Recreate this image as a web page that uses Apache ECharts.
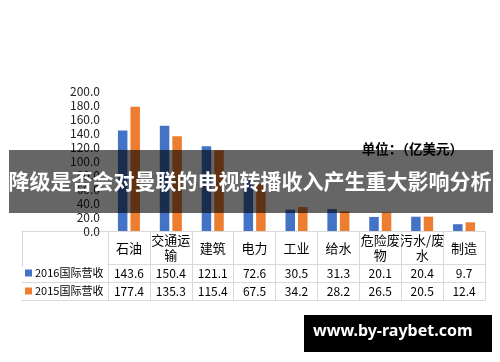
<!DOCTYPE html>
<html><head><meta charset="utf-8">
<script src="https://cdn.jsdelivr.net/npm/echarts@6/dist/echarts.min.js"></script>
<style>html,body{margin:0;padding:0;background:#fff}#c{width:500px;height:362px}</style>
</head><body><div id="c"></div>
<script>
var categories = ['石油','交通运\n输','建筑','电力','工业','给水','危险废\n物','污水/废\n水','制造'];
var s2016 = [143.6,150.4,121.1,72.6,30.5,31.3,20.1,20.4,9.7];
var s2015 = [177.4,135.3,115.4,67.5,34.2,28.2,26.5,20.5,12.4];
var seriesNames = ['2016国际营收','2015国际营收'];
var titleText = '降级是否会对曼联的电视转播收入产生重大影响分析';
var unitText = '单位：（亿美元）';
var watermark = 'www.by-raybet.com';

var FONT = '"Noto Sans CJK SC","Noto Sans",sans-serif';
var LINE = '#d9d9d9';
var chart = echarts.init(document.getElementById('c'), null, {renderer:'canvas'});

function rowAxis(offset, labels, margin){
  return {
    type:'category', gridIndex:0, data:categories, position:'bottom', offset:offset,
    axisLine:{show:true, lineStyle:{color:LINE}},
    axisTick:{show:false},
    axisLabel:{show:!!labels, interval:0, margin:margin||9, verticalAlign:'middle',
      fontSize:12, color:'#000', fontFamily:FONT,
      formatter:function(v,i){ return labels ? labels[i].toFixed(1) : ''; }}
  };
}
function leftAxis(offset, ticks){
  return {
    type:'category', gridIndex:1, data:[''], position:'bottom', offset:offset,
    axisLine:{show:true, lineStyle:{color:LINE}},
    axisTick:{show:ticks, length:36, interval:0, lineStyle:{color:LINE}},
    axisLabel:{show:false}
  };
}
function legendRow(name, top){
  return {
    orient:'horizontal', left:25, top:top, padding:0, itemGap:0, itemWidth:7, itemHeight:7,
    icon:'rect', selectedMode:false,
    textStyle:{fontSize:11, color:'#000', lineHeight:18, fontFamily:FONT, padding:[0,0,0,-2]},
    data:[name]
  };
}

chart.setOption({
  animation:false,
  textStyle:{fontFamily:FONT},
  grid:[{left:108, right:15, top:91, bottom:131},
        {left:22, right:392, top:91, bottom:131}],
  legend:[legendRow(seriesNames[0], 264), legendRow(seriesNames[1], 282)],
  xAxis:[
    {type:'category', gridIndex:0, data:categories, position:'bottom',
     axisLine:{show:true, lineStyle:{color:LINE}},
     axisTick:{show:true, length:69, interval:0, alignWithLabel:false, lineStyle:{color:LINE}},
     axisLabel:{interval:0, margin:17, verticalAlign:'middle', fontSize:13, lineHeight:15, color:'#000', fontFamily:FONT}},
    rowAxis(33, s2016, 9),
    rowAxis(51, s2015, 9),
    rowAxis(69, null),
    leftAxis(33, true),
    leftAxis(51, false),
    leftAxis(69, false)
  ],
  yAxis:[
    {type:'value', gridIndex:0, min:0, max:200, interval:20,
     axisLine:{show:false}, axisTick:{show:false}, splitLine:{show:false},
     axisLabel:{margin:8, fontSize:12, color:'#222', fontFamily:FONT,
       formatter:function(v){return v.toFixed(1);}}},
    {type:'value', gridIndex:1, show:false}
  ],
  series:[
    {name:seriesNames[0], type:'bar', xAxisIndex:0, yAxisIndex:0, data:s2016,
     barWidth:9.5, barGap:'32%', itemStyle:{color:'#4472C4'}},
    {name:seriesNames[1], type:'bar', xAxisIndex:0, yAxisIndex:0, data:s2015,
     barWidth:9.5, barGap:'32%', itemStyle:{color:'#ED7D31'}}
  ],
  graphic:[
    {type:'text', right:37, top:142, z:50,
     style:{text:unitText, fill:'#000', fontSize:13.5, fontWeight:'bold', fontFamily:FONT}},
    {type:'rect', left:9, top:150, z:100,
     shape:{width:484, height:63}, style:{fill:'rgba(0,0,0,0.6)'}},
    {type:'text', left:'center', top:171, z:101,
     style:{text:titleText, fill:'#fff', fontSize:21, fontWeight:'bold', fontFamily:FONT}},
    {type:'rect', left:304, top:315, z:100,
     shape:{width:188, height:37}, style:{fill:'#000'}},
    {type:'text', left:313, top:323, z:101,
     style:{text:watermark, fill:'#fff', fontSize:16, fontWeight:'bold', fontFamily:'"Noto Sans",sans-serif'}}
  ]
});
</script></body></html>
